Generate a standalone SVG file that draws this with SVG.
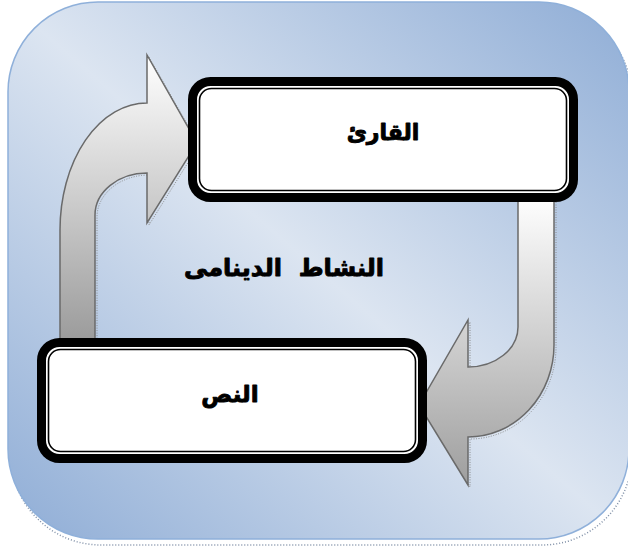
<svg xmlns="http://www.w3.org/2000/svg" width="628" height="547" viewBox="0 0 628 547">
  <defs>
    <linearGradient id="bg" x1="1" y1="0" x2="0" y2="1">
      <stop offset="0" stop-color="#8fadd6"/>
      <stop offset="0.5" stop-color="#dce5f1"/>
      <stop offset="1" stop-color="#8fadd6"/>
    </linearGradient>
    <linearGradient id="arrowL" x1="0" y1="0" x2="0" y2="1">
      <stop offset="0" stop-color="#ffffff"/>
      <stop offset="1" stop-color="#9a9a9a"/>
    </linearGradient>
    <linearGradient id="arrowR" x1="0" y1="0" x2="0" y2="1">
      <stop offset="0" stop-color="#ffffff"/>
      <stop offset="1" stop-color="#9e9e9e"/>
    </linearGradient>
  </defs>
  <style>
    .panel { fill: url(#bg); stroke: #8fb0da; stroke-width: 1.5; }
    .panel-shadow { fill: none; stroke: #7f8fa6; stroke-width: 1.5; stroke-dasharray: 1 2; }
    .arrow { stroke: #6a6a6a; stroke-width: 1.5; stroke-linejoin: miter; }
    .arrow-shadow { fill: none; stroke: #8a8a8a; stroke-width: 1; stroke-dasharray: 1 1.5; }
    .box-outer { fill: #ffffff; stroke: #000000; stroke-width: 9; }
    .box-inner { fill: none; stroke: #000000; stroke-width: 1.6; }
    .label { font-family: "DejaVu Sans", sans-serif; font-weight: bold; fill: #000000; stroke: #000000; stroke-width: 0.9; stroke-linejoin: round; text-anchor: middle; }
  </style>

  <g id="background">
    <rect class="panel-shadow" x="11" y="8" width="621" height="537" rx="90" ry="90"/>
    <rect class="panel" x="8" y="2" width="621" height="537" rx="90" ry="90"/>
  </g>

  <g id="connectors">
    <path class="arrow-shadow" transform="translate(2,2)" d="M60,345 L60,230 A87,127 0 0 1 147,103 L147,55 L197,143 L147,223 L147,173 A52,42 0 0 0 95,215 L95,345 Z"/>
    <path class="arrow" fill="url(#arrowL)" d="M60,345 L60,230 A87,127 0 0 1 147,103 L147,55 L197,143 L147,223 L147,173 A52,42 0 0 0 95,215 L95,345 Z"/>
    <path class="arrow-shadow" transform="translate(2,2)" d="M554,195 L554,345 A86,92 0 0 1 468,437 L468,485 L419,405 L468,320 L468,367 A50,40 0 0 0 518,327 L518,195 Z"/>
    <path class="arrow" fill="url(#arrowR)" d="M554,195 L554,345 A86,92 0 0 1 468,437 L468,485 L419,405 L468,320 L468,367 A50,40 0 0 0 518,327 L518,195 Z"/>
  </g>

  <g id="node-reader">
    <rect class="box-outer" x="192.5" y="81.5" width="381" height="116" rx="18" ry="18"/>
    <rect class="box-inner" x="199.5" y="88.5" width="367" height="102" rx="12" ry="12"/>
    <text class="label" x="383" y="140" font-size="22">القارئ</text>
  </g>

  <g id="node-text">
    <rect class="box-outer" x="41.5" y="342.5" width="381" height="116" rx="18" ry="18"/>
    <rect class="box-inner" x="48.5" y="349.5" width="367" height="102" rx="12" ry="12"/>
    <text class="label" x="230" y="402" font-size="23">النص</text>
  </g>

  <g id="label-activity">
    <text class="label" x="284" y="276" font-size="24" xml:space="preserve">النشاط  الدينامى</text>
  </g>
</svg>
